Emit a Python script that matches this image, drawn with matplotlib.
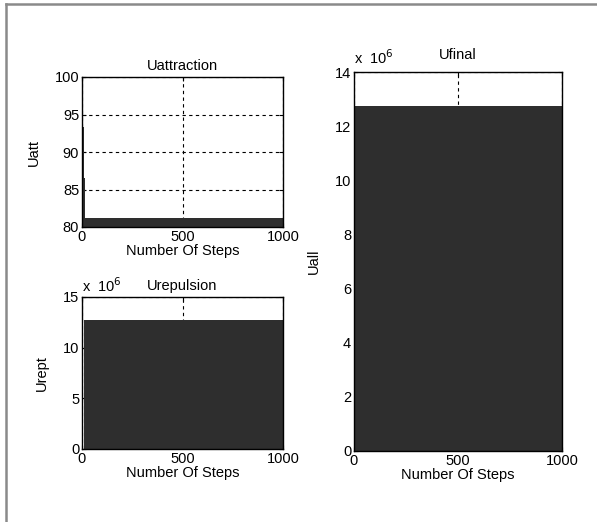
import matplotlib
matplotlib.use('Agg')
import matplotlib.pyplot as plt
from matplotlib.lines import Line2D

plt.rcParams['font.family'] = ['Liberation Sans', 'DejaVu Sans']
plt.rcParams['font.size'] = 10.5

# breakpoints (value holds until next step)
att_steps = [0, 8, 11, 14, 1000]
att_vals = [93.4, 80.0, 86.5, 81.15, 81.15]

rep_steps = [0, 8, 999, 1000]
rep_vals = [0.0, 12.75, 4.8, 4.8]   # x 10^6

fin_steps = [0, 3, 999, 1000]
fin_vals = [0.0, 12.75, 5.5, 5.5]   # x 10^6

fill_color = '#2e2e2e'

fig = plt.figure(figsize=(5.97, 5.22), dpi=100)

# grey frame of the figure window (top and left edges only)
fig.add_artist(Line2D([6 / 597, 6 / 597], [0, 1 - 4 / 522], transform=fig.transFigure,
                      color='#8a8a8a', lw=1.8))
fig.add_artist(Line2D([6 / 597, 1], [1 - 4 / 522, 1 - 4 / 522], transform=fig.transFigure,
                      color='#8a8a8a', lw=1.8))

ax1 = fig.add_axes([82 / 597, 1 - 227 / 522, 201 / 597, 150 / 522])
ax2 = fig.add_axes([82 / 597, 1 - 449 / 522, 201 / 597, 152 / 522])
ax3 = fig.add_axes([354 / 597, 1 - 451 / 522, 208 / 597, 379 / 522])


def style(ax, ylim, yticks):
    ax.set_xlim(0, 1000)
    ax.set_ylim(*ylim)
    ax.set_xticks([0, 500, 1000])
    ax.set_yticks(yticks)
    ax.set_axisbelow(True)
    ax.grid(True, color='black', linestyle=(0, (3, 3)), linewidth=0.8)
    ax.tick_params(direction='in', length=3, top=True, right=True, pad=2)
    for s in ax.spines.values():
        s.set_linewidth(1.0)
    ax.set_xlabel('Number Of Steps', labelpad=0)


ax1.fill_between(att_steps, 80, att_vals, step='post', color=fill_color, lw=0)
style(ax1, (80, 100), [80, 85, 90, 95, 100])
ax1.set_title('Uattraction', fontsize=10.5, pad=5)
ax1.set_ylabel('Uatt', labelpad=10)

ax2.fill_between(rep_steps, 0, rep_vals, step='post', color=fill_color, lw=0)
style(ax2, (0, 15), [0, 5, 10, 15])
ax2.set_title('Urepulsion', fontsize=10.5, pad=5)
ax2.set_ylabel('Urept', labelpad=10)
ax2.text(0.0, 1.03, r'x  10$^{6}$', transform=ax2.transAxes, fontsize=10.5)

ax3.fill_between(fin_steps, 0, fin_vals, step='post', color=fill_color, lw=0)
style(ax3, (0, 14), [0, 2, 4, 6, 8, 10, 12, 14])
ax3.set_title('Ufinal', fontsize=10.5, pad=9)
ax3.set_ylabel('Uall', labelpad=10)
ax3.text(0.0, 1.02, r'x  10$^{6}$', transform=ax3.transAxes, fontsize=10.5)

fig.savefig('out.png', dpi=100, facecolor='white')
